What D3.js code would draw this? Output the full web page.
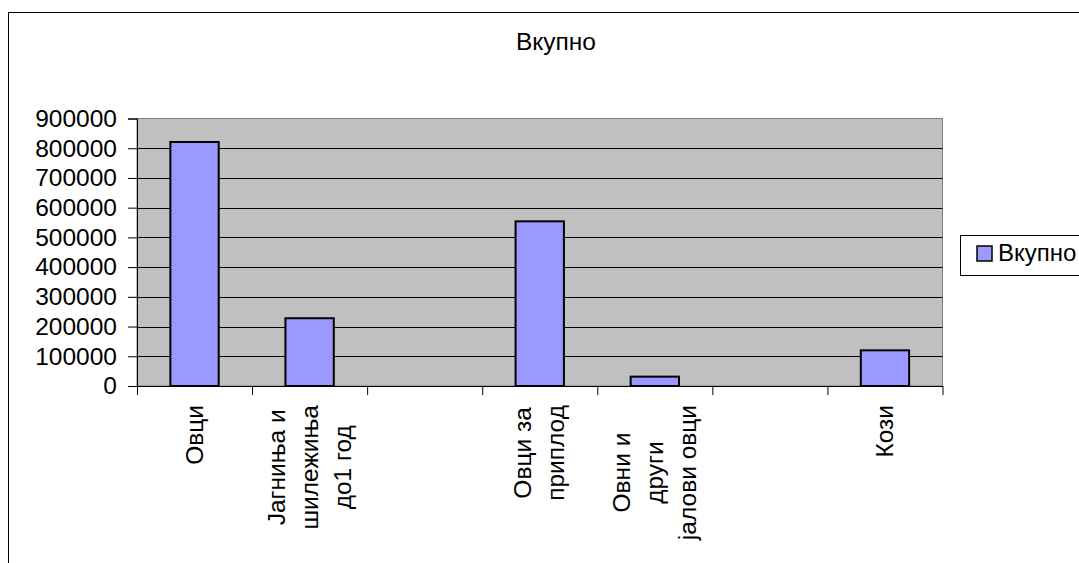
<!DOCTYPE html>
<html>
<head>
<meta charset="utf-8">
<script src="https://cdn.jsdelivr.net/npm/d3@7/dist/d3.min.js"></script>
<style>
  html, body { margin: 0; padding: 0; background: #fff; }
  svg { display: block; }
  text { font-family: "Liberation Sans", Arial, sans-serif; fill: #000; }
</style>
</head>
<body>
<svg id="chart" width="1079" height="563"></svg>
<script>
// ---- data ----
const categories = [
  ["Овци"],
  ["Јагниња и", "шилежиња", "до1 год"],
  [""],
  ["Овци за", "приплод"],
  ["Овни и", "други", "јалови овци"],
  [""],
  ["Кози"]
];
const values = [821000, 228000, null, 554000, 31500, null, 120000];
const yTicks = [0, 100000, 200000, 300000, 400000, 500000, 600000, 700000, 800000, 900000];
const seriesName = "Вкупно";
const chartTitle = "Вкупно";

// ---- layout ----
const svg = d3.select("#chart");
const plot = { left: 137, right: 942.5, top: 118.5, bottom: 386 };
const fontSize = 24.5;

// outer chart border
svg.append("rect")
  .attr("x", 8.5).attr("y", 12.5)
  .attr("width", 1200).attr("height", 700)
  .attr("fill", "#fff").attr("stroke", "#000").attr("stroke-width", 1);

const x = d3.scaleBand()
  .domain(d3.range(categories.length))
  .range([plot.left, plot.right])
  .paddingInner(0).paddingOuter(0);

const xIdx = d3.scaleLinear()
  .domain([0, categories.length])
  .range([plot.left, plot.right]);

const y = d3.scaleLinear()
  .domain([0, 900000])
  .range([plot.bottom, plot.top]);

// plot background
svg.append("rect")
  .attr("x", plot.left).attr("y", plot.top)
  .attr("width", plot.right - plot.left).attr("height", plot.bottom - plot.top)
  .attr("fill", "#C0C0C0").attr("stroke", "#808080").attr("stroke-width", 1);

// gridlines
svg.append("g")
  .selectAll("line")
  .data(yTicks.filter(d => d > 0 && d < 900000))
  .join("line")
  .attr("x1", plot.left).attr("x2", plot.right)
  .attr("y1", d => Math.round(y(d)) + 0.5).attr("y2", d => Math.round(y(d)) + 0.5)
  .attr("stroke", "#000").attr("stroke-width", 1);

// bars
const bw = x.bandwidth() * 0.42;
svg.append("g")
  .selectAll("rect")
  .data(values.map((v, i) => ({ v, i })).filter(d => d.v != null))
  .join("rect")
  .attr("x", d => x(d.i) + (x.bandwidth() - bw) / 2)
  .attr("y", d => y(d.v))
  .attr("width", bw)
  .attr("height", d => y(0) - y(d.v))
  .attr("fill", "#9999FF")
  .attr("stroke", "#000")
  .attr("stroke-width", 2);

// y axis
const yAxis = svg.append("g")
  .attr("transform", `translate(${plot.left},0)`)
  .call(d3.axisLeft(y).tickValues(yTicks).tickSize(9).tickPadding(11).tickFormat(d3.format("d")));
yAxis.select(".domain").attr("stroke", "#000");
yAxis.selectAll(".tick line").attr("stroke", "#000");
yAxis.selectAll("text")
  .style("font-size", fontSize + "px")
  .attr("fill", "#000");

// x axis (tick marks at category boundaries)
const xAxis = svg.append("g")
  .attr("transform", `translate(0,${plot.bottom})`)
  .call(d3.axisBottom(xIdx).tickValues(d3.range(categories.length + 1)).tickSize(9).tickSizeOuter(0).tickFormat(""));
xAxis.select(".domain").attr("stroke", "#000");
xAxis.selectAll(".tick line").attr("stroke", "#000");

// category labels, rotated
const lineGap = 33;
const labelTop = 405;
const catG = svg.append("g");
categories.forEach((lines, i) => {
  const cx = x(i) + x.bandwidth() / 2;
  const g = catG.append("g");
  const texts = lines.map((ln, k) => {
    const off = (k - (lines.length - 1) / 2) * lineGap + 8;
    return g.append("text")
      .attr("text-anchor", "middle")
      .style("font-size", fontSize + "px")
      .text(ln)
      .datum(off);
  });
  const maxLen = d3.max(texts, t => t.node().getComputedTextLength()) || 0;
  const cy = labelTop + maxLen / 2;
  texts.forEach(t => {
    t.attr("transform", `translate(${cx + t.datum()},${cy}) rotate(-90)`);
  });
});

// title
svg.append("text")
  .attr("x", 556).attr("y", 50)
  .attr("text-anchor", "middle")
  .style("font-size", "24.5px")
  .text(chartTitle);

// legend
const lg = svg.append("g");
lg.append("rect")
  .attr("x", 960.5).attr("y", 235.5)
  .attr("width", 200).attr("height", 40)
  .attr("fill", "#fff").attr("stroke", "#000").attr("stroke-width", 1);
lg.append("rect")
  .attr("x", 977).attr("y", 246)
  .attr("width", 15).attr("height", 15)
  .attr("fill", "#9999FF").attr("stroke", "#000").attr("stroke-width", 1.5);
lg.append("text")
  .attr("x", 998).attr("y", 261)
  .style("font-size", "24px")
  .text(seriesName);
</script>
</body>
</html>
